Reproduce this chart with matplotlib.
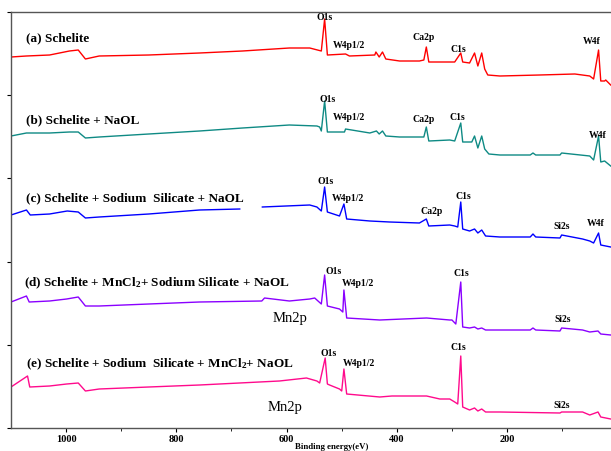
import matplotlib.pyplot as plt
import numpy as np

plt.rcParams['font.family'] = ['Liberation Serif', 'DejaVu Serif']
plt.rcParams['mathtext.fontset'] = 'custom'
plt.rcParams['mathtext.rm'] = 'Liberation Serif:bold'
plt.rcParams['mathtext.it'] = 'Liberation Serif:bold'
plt.rcParams['mathtext.bf'] = 'Liberation Serif:bold'

'''Spectra read off the figure: binding energy (eV) and intensity (a.u., offset stacked)'''
e_a = [1100, 1072, 1030, 994, 978, 965, 940, 850, 758, 680, 595, 558, 537, 531, 526, 493, 486, 440,
       438, 432, 426, 420, 395, 359, 351, 346.5, 342, 304, 295, 284, 280.5, 268, 259, 253, 246,
       240.6, 235, 213, 141, 77, 50, 43, 34, 30, 23, 21, 12]
i_a = [371, 372, 373, 377, 378, 369, 372, 373, 375, 377, 380, 380, 377, 409, 373, 374, 372, 373,
       376, 371, 376, 369, 367, 367, 368, 381, 366, 366, 366, 375, 366, 365, 375, 362, 375,
       359, 353, 352, 353, 354, 352, 349, 378, 347, 347, 348, 343]

e_b = [1100, 1072, 1030, 994, 978, 965, 940, 850, 758, 680, 595, 545, 540, 537, 531, 526, 495, 493,
       449, 437, 432, 426, 420, 395, 359, 351, 346.5, 342, 304, 295, 284, 280.5, 264, 259, 253, 246,
       240.6, 233, 213, 158, 153, 148, 104, 101, 50, 43, 34, 30, 23, 12]
i_b = [292, 295, 295, 296, 296, 290, 291, 294, 297, 300, 303, 302, 301, 297, 327, 296, 296, 299,
       295, 297, 294, 297, 292, 291, 291, 291, 301, 287, 288, 287, 305, 286, 286, 292, 280, 292,
       279, 274, 273, 273, 275, 273, 273, 275, 272, 268, 292, 266, 267, 262]

# the blue trace has a short blank stretch around 665 eV in the original
e_c = [1100, 1072, 1065, 1030, 998, 978, 965, 940, 850, 758, 685, 665, 644, 558, 545, 537, 531, 526, 504,
       496, 491, 449, 413, 359, 346.5, 342, 304, 295, 289.5, 284, 280.5, 268, 259, 253, 246, 239,
       213, 158, 153, 148, 104, 101, 63, 50, 43, 34, 30, 12]
i_c = [213, 218, 213, 214, 217, 216, 210, 211, 214, 218, 219, np.nan, 221, 223, 221, 217, 241, 216, 212,
       224, 209, 207, 206, 205, 209, 202, 203, 202, 201, 226, 199, 197, 199, 195, 198, 192,
       191, 191, 194, 191, 190, 193, 189, 187, 185, 195, 183, 181]

e_d = [1100, 1072, 1067, 1030, 999, 978, 965, 940, 850, 758, 645, 640, 595, 558, 549, 537, 531, 526,
       504, 498, 496, 491, 431, 346, 304, 300, 293, 284, 280.5, 268, 259, 253, 246, 239, 213,
       158, 153, 148, 104, 101, 63, 50, 35, 30, 12]
i_d = [126, 132, 126, 127, 129, 131, 122, 122, 124, 126, 127, 130, 127, 129, 130, 124, 153, 122,
       119, 116, 138, 110, 108, 110, 108, 108, 104, 146, 101, 100, 101, 99, 100, 98, 98,
       98, 100, 98, 97, 100, 98, 96, 97, 94, 93]

e_e = [1100, 1070, 1066, 1030, 999, 978, 965, 940, 850, 758, 613, 564, 545, 540, 530, 526, 522, 504,
       500, 496, 491, 431, 409, 346, 322, 304, 295, 289.5, 284, 280.5, 268, 259, 253, 246, 239,
       213, 104, 101, 63, 50, 35, 30, 12]
i_e = [41, 52, 41, 42, 44, 45, 37, 39, 41, 43, 47, 50, 47, 45, 70, 44, 43, 39,
       37, 59, 34, 31, 32, 32, 29, 29, 26, 24, 72, 21, 18, 20, 17, 19, 16,
       16, 15, 16, 16, 13, 16, 11, 9]

spectra = [(e_a, i_a, '#FF0000'), (e_b, i_b, '#0E8A84'), (e_c, i_c, '#0000FF'),
           (e_d, i_d, '#8A00FF'), (e_e, i_e, '#FF0A8C')]

sample_labels = ['(a) Schelite', '(b) Schelite + NaOL',
                 '(c) Schelite + Sodium  Silicate + NaOL',
                 '(d) Schelite + MnCl$_2$+ Sodium Silicate + NaOL',
                 '(e) Schelite + Sodium  Silicate + MnCl$_2$+ NaOL']
sample_label_pos = [(1072, 391), (1072, 309), (1072, 231), (1076, 146), (1072, 65)]

# peak name, energy position of label, height of label
peak_labels = [
    ('O1s', 531, 412), ('W4p1/2', 486, 383), ('Ca2p', 351, 391), ('C1s', 288, 380), ('W4f', 46, 387),
    ('O1s', 526, 330), ('W4p1/2', 486, 311), ('Ca2p', 351, 309), ('C1s', 291, 312), ('W4f', 35, 294),
    ('O1s', 529, 247), ('W4p1/2', 489, 230), ('Ca2p', 337, 217), ('C1s', 280, 232), ('Si2s', 101, 202),
    ('W4f', 39, 205),
    ('O1s', 515, 157), ('W4p1/2', 471, 145), ('C1s', 282, 155), ('Si2s', 99, 109),
    ('O1s', 524, 75), ('W4p1/2', 469, 65), ('C1s', 288, 81), ('Si2s', 101, 23),
]
mn_labels = [(594, 110), (602, 21)]

fig = plt.figure(figsize=(6.11, 4.52), dpi=100)
ax = fig.add_axes([11/611, 23/452, 603/611, 416/452])

for e, i, c in spectra:
    ax.plot(e, i, color=c, lw=1.0)

for txt, (x, y) in zip(sample_labels, sample_label_pos):
    ax.text(x, y, txt, ha='left', va='center', fontsize=9.5, fontweight='bold')
for txt, x, y in peak_labels:
    ax.text(x, y, txt, ha='center', va='center', fontsize=7, fontweight='bold')
for x, y in mn_labels:
    ax.text(x, y, 'Mn2p', ha='center', va='center', fontsize=10.5)

ax.set_xlim(1100, 6)
ax.set_ylim(0, 416)
ax.set_xticks([1000, 800, 600, 400, 200])
ax.set_xticks([900, 700, 500, 300, 100], minor=True)
ax.set_yticks(np.linspace(0, 416, 6))
ax.set_yticklabels([])
ax.tick_params(axis='x', direction='out', length=3, labelsize=7.5, pad=1.5)
ax.tick_params(axis='x', which='minor', direction='out', length=2)
ax.tick_params(axis='y', direction='out', length=3)
for lab in ax.get_xticklabels():
    lab.set_fontweight('bold')
for s in ax.spines.values():
    s.set_color('#555555')
    s.set_linewidth(1.0)

ax.set_xlabel('Binding energy(eV)', fontsize=6.3, fontweight='bold')
ax.xaxis.set_label_coords(0.532, -0.034)

fig.savefig('out.png', dpi=100)
